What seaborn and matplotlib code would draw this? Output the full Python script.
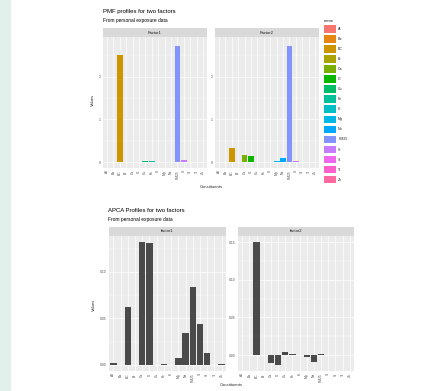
import numpy as np
import pandas as pd
import matplotlib
matplotlib.use("Agg")
import matplotlib.pyplot as plt
import matplotlib.colors as mcolors
from matplotlib.patches import Patch, Rectangle
from matplotlib.ticker import MultipleLocator
import seaborn as sns

# constituents (ggplot alphabetical order)
constituents = ["Al", "Ba", "BC", "Br", "Ca", "Cl", "Cu", "Fe", "K", "Mg",
                "Na", "PM25", "S", "Si", "Ti", "Zn"]

# PMF profiles
pmf_factor1 = [0, 0, 2.50, 0, 0.005, 0.005, 0.02, 0.02, 0.01, 0, 0.01, 2.73, 0.05, 0.01, 0, 0.005]
pmf_factor2 = [0, 0, 0.32, 0, 0.17, 0.15, 0.01, 0.01, 0.01, 0.03, 0.09, 2.73, 0.02, 0.01, 0, 0]
pmf_panels = ["Factor1", "Factor2"]

# APCA profiles
apca_factor1 = [0.0025, 0, 0.062, 0, 0.132, 0.131, 0, 0.0005, 0, 0.0075,
                0.034, 0.084, 0.044, 0.013, 0, 0.0005]
apca_factor2 = [0, 0, 0.150, 0, -0.011, -0.013, 0.004, 0.001, 0, -0.003,
                -0.009, 0.001, 0, 0, 0, 0.0005]
apca_panels = ["factor1", "factor2"]


def hcl_hex(h, c=100, l=65):
    # ggplot hue_pal colours (polar Luv -> sRGB)
    hr = np.deg2rad(h)
    u, v = c * np.cos(hr), c * np.sin(hr)
    xn, yn, zn = 95.047, 100.0, 108.883
    d = xn + 15 * yn + 3 * zn
    un, vn = 4 * xn / d, 9 * yn / d
    y = yn * ((l + 16) / 116) ** 3
    up, vp = u / (13 * l) + un, v / (13 * l) + vn
    x = y * 9 * up / (4 * vp)
    z = y * (12 - 3 * up - 20 * vp) / (4 * vp)
    m = np.array([[3.2406, -1.5372, -0.4986],
                  [-0.9689, 1.8758, 0.0415],
                  [0.0557, -0.2040, 1.0570]])
    rgb = m @ (np.array([x, y, z]) / 100)
    rgb = np.clip(rgb, 0, None)
    rgb = np.where(rgb <= 0.0031308, 12.92 * rgb, 1.055 * rgb ** (1 / 2.4) - 0.055)
    return mcolors.to_hex(np.clip(rgb, 0, 1))


hues = np.linspace(15, 375, len(constituents) + 1)[:-1]
palette = {n: hcl_hex(h) for n, h in zip(constituents, hues)}

sns.set_theme(style="white")
plt.rcParams["font.family"] = ["Liberation Sans", "DejaVu Sans"]

W, H = 427, 391
fig = plt.figure(figsize=(W / 100, H / 100), dpi=100)
fig.patch.set_facecolor("white")
fig.patches.append(Rectangle((0, 0), 10 / W, 1, transform=fig.transFigure,
                             color="#e2efeb", zorder=-5))


def px_axes(x0, y0, x1, y1):
    return fig.add_axes([x0 / W, 1 - y1 / H, (x1 - x0) / W, (y1 - y0) / H])


def strip(x0, y0, x1, y1, label):
    s = px_axes(x0, y0, x1, y1)
    s.set_facecolor("#D9D9D9")
    s.set_xticks([])
    s.set_yticks([])
    for sp in s.spines.values():
        sp.set_visible(False)
    s.text(0.5, 0.5, label, ha="center", va="center", fontsize=3, color="#1A1A1A",
           transform=s.transAxes)


def style_panel(ax, step, fmt, ylim):
    ax.set_facecolor("#EBEBEB")
    for sp in ax.spines.values():
        sp.set_visible(False)
    ax.set_xlim(-0.6, len(constituents) - 0.4)
    ax.set_ylim(*ylim)
    ax.yaxis.set_major_locator(MultipleLocator(step))
    ax.yaxis.set_minor_locator(MultipleLocator(step / 2))
    ax.yaxis.set_major_formatter(plt.FuncFormatter(lambda v, p: fmt.format(v)))
    ax.set_axisbelow(True)
    ax.grid(which="major", color="white", lw=0.5)
    ax.grid(which="minor", axis="y", color="white", lw=0.25)
    ax.tick_params(which="major", length=1, width=0.3, color="#333333",
                   labelsize=2.4, labelcolor="#4D4D4D", pad=0.6)
    ax.tick_params(which="minor", length=0)
    ax.tick_params(axis="x", labelrotation=90)
    ax.set_xlabel("")
    ax.set_ylabel("")


# ---- PMF chart ----
fig.text(103 / W, 1 - 12 / H, "PMF profiles for two factors", fontsize=4.3,
         ha="left", va="center", color="black")
fig.text(103 / W, 1 - 20.5 / H, "From personal exposure data", fontsize=3.5,
         ha="left", va="center", color="black")

pmf_x = [(103, 207), (215, 319)]
for (x0, x1), label, vals in zip(pmf_x, pmf_panels, [pmf_factor1, pmf_factor2]):
    strip(x0, 28, x1, 37, label)
    ax = px_axes(x0, 37, x1, 168)
    df = pd.DataFrame({"name": constituents, "value": vals})
    sns.barplot(data=df, x="name", y="value", hue="name", order=constituents,
                hue_order=constituents, palette=palette, legend=False, width=0.9,
                saturation=1, linewidth=0, ax=ax)
    style_panel(ax, 1, "{:.0f}", (-0.14, 2.93))

fig.text(93 / W, 1 - 100 / H, "Values", rotation=90, fontsize=3, ha="center",
         va="center")
fig.text(211 / W, 1 - 187 / H, "Constituents", fontsize=3, ha="center", va="center")

handles = [Patch(facecolor=palette[n], edgecolor="none") for n in constituents]
fig.legend(handles, constituents, loc="upper left",
           bbox_to_anchor=(322 / W, 1 - 17 / H), frameon=False, fontsize=2.6,
           title="name", title_fontsize=3, handlelength=3.4, handleheight=2.9,
           labelspacing=0.65, handletextpad=0.6, borderpad=0, alignment="left")

# ---- APCA chart ----
fig.text(108 / W, 1 - 210 / H, "APCA Profiles for two factors", fontsize=4.3,
         ha="left", va="center", color="black")
fig.text(108 / W, 1 - 219.5 / H, "From personal exposure data", fontsize=3.5,
         ha="left", va="center", color="black")

apca_x = [(109, 226), (238, 354)]
apca_lims = [(-0.0066, 0.1386), (-0.0212, 0.158)]
for (x0, x1), label, vals, lim in zip(apca_x, apca_panels,
                                      [apca_factor1, apca_factor2], apca_lims):
    strip(x0, 227, x1, 236, label)
    ax = px_axes(x0, 236, x1, 371)
    df = pd.DataFrame({"name": constituents, "value": vals})
    sns.barplot(data=df, x="name", y="value", order=constituents, color="#4A4A4A",
                saturation=1, width=0.9, linewidth=0, ax=ax)
    style_panel(ax, 0.05, "{:.2f}", lim)

fig.text(94 / W, 1 - 305 / H, "Values", rotation=90, fontsize=3, ha="center",
         va="center")
fig.text(231 / W, 1 - 385 / H, "Constituents", fontsize=3, ha="center", va="center")

fig.savefig("out.png", dpi=100)
